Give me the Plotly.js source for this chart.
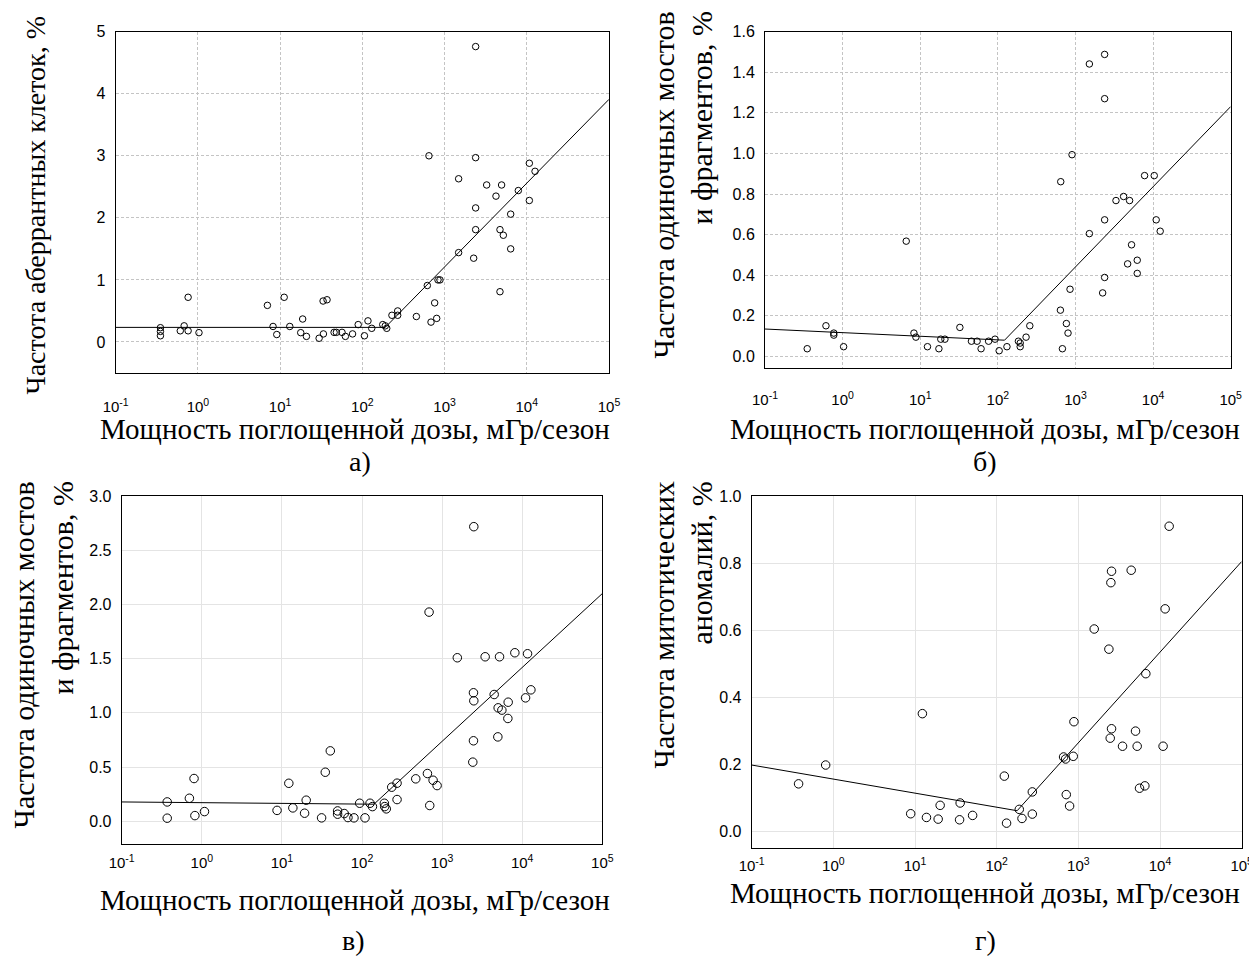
<!DOCTYPE html>
<html>
<head>
<meta charset="utf-8">
<script src="https://cdn.plot.ly/plotly-3.0.1.min.js"></script>
<style>html,body{margin:0;padding:0;background:#fff;}#chart{width:1249px;height:960px;}</style>
</head>
<body>
<div id="chart"></div>
<script>
// ---- Data (dose rate, mGy/season; frequency, %) ----
const aX = [0.35,0.35,0.35,0.61,0.68,0.76,0.76,1.03,7.0,8.2,9.1,11.2,13.1,17.8,18.8,20.9,29.8,33.3,37.2,33.6,45.3,48.3,56.6,62.2,76,89,106,117,130,177,190,198,229,269,269,454,617,646,684,758,802,832,879,1483,1483,2259,2388,2388,2388,2388,3251,4220,4720,4940,4720,5185,6370,6370,7890,10740,10740,12600];
const aY = [0.23,0.17,0.10,0.18,0.26,0.18,0.72,0.15,0.59,0.25,0.12,0.72,0.25,0.15,0.37,0.09,0.06,0.66,0.68,0.13,0.155,0.155,0.155,0.09,0.13,0.28,0.10,0.34,0.22,0.28,0.26,0.22,0.43,0.50,0.43,0.41,0.91,3.00,0.32,0.63,0.38,1.0,1.0,2.63,1.44,1.35,4.76,2.97,2.16,1.81,2.53,2.35,1.81,2.53,0.81,1.72,2.06,1.50,2.44,2.88,2.28,2.75];
const aFitX = [0.1, 190, 100000];
const aFitY = [0.235, 0.235, 3.91];

const bX = [0.35,0.61,0.77,0.77,1.03,6.6,8.3,8.8,12.4,17.4,18.4,20.8,32.4,45.7,54,60.8,76,92,104,131,184,194,194,231,258,640,646,679,764,802,851,903,1510,1510,2240,2376,2376,2376,2376,3326,4170,4700,4980,5280,6250,6250,7770,10350,10970,12350];
const bY = [0.038,0.151,0.115,0.105,0.048,0.568,0.115,0.095,0.048,0.038,0.085,0.085,0.143,0.075,0.075,0.038,0.075,0.085,0.028,0.048,0.075,0.066,0.048,0.095,0.151,0.228,0.861,0.038,0.162,0.115,0.331,0.994,1.441,0.605,0.313,1.488,1.27,0.673,0.389,0.768,0.788,0.456,0.768,0.55,0.474,0.409,0.891,0.891,0.673,0.617];
const bFitX = [0.1, 122, 100000];
const bFitY = [0.135, 0.08, 1.231];

const cX = [0.37,0.37,0.70,0.80,0.82,1.08,8.7,12.2,13.7,19.2,20.1,31.3,34.8,40.2,49.6,49.6,60,66.8,79.4,93.5,109,126,135,190,192,201,235,274,274,469,656,688,701,772,866,1549,2416,2464,2488,2464,2488,3447,4467,5012,4965,5212,5572,6683,6622,8096,11010,11660,12840];
const cY = [0.178,0.028,0.212,0.394,0.052,0.089,0.10,0.35,0.123,0.074,0.194,0.031,0.452,0.649,0.065,0.095,0.071,0.034,0.031,0.166,0.031,0.166,0.135,0.166,0.135,0.114,0.314,0.351,0.2,0.391,0.44,1.929,0.145,0.378,0.329,1.508,0.545,0.742,2.717,1.185,1.111,1.517,1.169,1.046,0.778,1.517,1.025,1.098,0.948,1.554,1.138,1.545,1.212];
const cFitX = [0.1, 141, 100000];
const cFitY = [0.178, 0.157, 2.10];

const dX = [0.375,0.805,8.85,12.3,13.8,19.2,20.3,35.1,35.7,50.7,124,132,189,204,273,273,659,698,711,781,866,883,1563,2364,2455,2502,2548,2548,3475,4436,5012,5250,5610,6520,6700,10900,11550,12940];
const dY = [0.143,0.199,0.054,0.352,0.043,0.038,0.079,0.036,0.086,0.049,0.166,0.026,0.067,0.04,0.119,0.053,0.223,0.217,0.111,0.077,0.225,0.328,0.604,0.544,0.279,0.742,0.776,0.307,0.255,0.779,0.300,0.255,0.130,0.137,0.471,0.255,0.664,0.91];
const dFitX = [0.1, 178, 100000];
const dFitY = [0.199, 0.063, 0.805];

const xTickVals = [0.1, 1, 10, 100, 1000, 10000, 100000];
const xTickText = ['10<sup>-1</sup>','10<sup>0</sup>','10<sup>1</sup>','10<sup>2</sup>','10<sup>3</sup>','10<sup>4</sup>','10<sup>5</sup>'];

const xTitle = 'Мощность поглощенной дозы, мГр/сезон';
const yTitleA = 'Частота аберрантных клеток, %';
const yTitleB1 = 'Частота одиночных мостов';
const yTitleB2 = 'и фрагментов, %';
const yTitleD1 = 'Частота митотических';
const yTitleD2 = 'аномалий, %';
const panelLabels = ['а)', 'б)', 'в)', 'г)'];

// ---- Layout helpers ----
const W = 1249, H = 960;
const px = v => v / W;
const py = v => 1 - v / H;
const SANS = 'Liberation Sans';
const SERIF = 'Liberation Serif';

function pts(x, y, ax, size) {
  return {x: x, y: y, xaxis: ax[0], yaxis: ax[1], type: 'scatter', mode: 'markers',
    marker: {symbol: 'circle-open', size: size, color: '#000', line: {width: 1, color: '#000'}},
    hoverinfo: 'x+y'};
}
function fit(x, y, ax) {
  return {x: x, y: y, xaxis: ax[0], yaxis: ax[1], type: 'scatter', mode: 'lines',
    line: {color: '#000', width: 1}, hoverinfo: 'skip'};
}
function xax(dom, anchor, standoff, gridDash, gridColor) {
  return {domain: dom, anchor: anchor, type: 'log', range: [-1, 5],
    tickvals: xTickVals, ticktext: xTickText, ticks: '', ticklabelstandoff: standoff,
    ticklabeloverflow: 'allow',
    tickfont: {family: SANS, size: 15, color: '#000'},
    showgrid: true, gridcolor: gridColor, griddash: gridDash, gridwidth: 1,
    showline: true, linecolor: '#000', linewidth: 1, mirror: true, zeroline: false};
}
function yax(dom, anchor, range, dtick, fmt, gridDash, gridColor) {
  return {domain: dom, anchor: anchor, range: range, dtick: dtick, tick0: 0, tickformat: fmt,
    ticks: '', ticklabelstandoff: 6,
    tickfont: {family: SANS, size: 16, color: '#000'},
    showgrid: true, gridcolor: gridColor, griddash: gridDash, gridwidth: 1,
    showline: true, linecolor: '#000', linewidth: 1, mirror: true, zeroline: false};
}

const data = [
  fit(aFitX, aFitY, ['x', 'y']), pts(aX, aY, ['x', 'y'], 6.5),
  fit(bFitX, bFitY, ['x2', 'y2']), pts(bX, bY, ['x2', 'y2'], 6.5),
  fit(cFitX, cFitY, ['x3', 'y3']), pts(cX, cY, ['x3', 'y3'], 8.5),
  fit(dFitX, dFitY, ['x4', 'y4']), pts(dX, dY, ['x4', 'y4'], 8.5)
];

function ann(text, x, y, size, opts) {
  return Object.assign({text: text, x: px(x), y: py(y), xref: 'paper', yref: 'paper',
    showarrow: false, font: {family: SERIF, size: size, color: '#000'}}, opts || {});
}
const C = {xanchor: 'center', yanchor: 'middle'};
const R = {textangle: -90, xanchor: 'center', yanchor: 'top'};

const annotations = [
  // x titles
  ann(xTitle, 355, 429, 29, C),
  ann(xTitle, 985, 429, 29, C),
  ann(xTitle, 355, 900, 29, C),
  ann(xTitle, 985, 893, 29, C),
  // panel labels
  ann(panelLabels[0], 360, 462, 28, C),
  ann(panelLabels[1], 985, 462, 28, C),
  ann(panelLabels[2], 354, 940, 28, C),
  ann(panelLabels[3], 985, 940, 28, C),
  // y titles
  ann(yTitleA, 35, 14, 28, R),
  ann(yTitleB1, 663, 10, 30, R),
  ann(yTitleB2, 701, 10, 30, R),
  ann(yTitleB1, 23, 480, 30, R),
  ann(yTitleB2, 62, 480, 30, R),
  ann(yTitleD1, 663, 480, 30, R),
  ann(yTitleD2, 701, 480, 30, R)
];

const GA = '#c4c4c4', GC = '#e4e4e4';
const layout = {
  width: W, height: H, margin: {l: 0, r: 0, t: 0, b: 0},
  paper_bgcolor: '#fff', plot_bgcolor: '#fff', showlegend: false,
  xaxis:  xax([px(115.7), px(609)], 'y', 20, '3px,2px', GA),
  yaxis:  yax([py(373), py(31.7)], 'x', [-0.5, 5], 1, 'd', '3px,2px', GA),
  xaxis2: xax([px(765), px(1230.7)], 'y2', 18, '3px,2px', GA),
  yaxis2: yax([py(368), py(31.7)], 'x2', [-0.057, 1.6], 0.2, '.1f', '3px,2px', GA),
  xaxis3: xax([px(121.7), px(602.3)], 'y3', 5, 'solid', GC),
  yaxis3: yax([py(844), py(496)], 'x3', [-0.21, 3.0], 0.5, '.1f', 'solid', GC),
  xaxis4: xax([px(751.7), px(1241.7)], 'y4', 4, 'solid', GC),
  yaxis4: yax([py(848), py(496)], 'x4', [-0.048, 1.0], 0.2, '.1f', 'solid', GC),
  annotations: annotations
};

Plotly.newPlot('chart', data, layout, {displayModeBar: false, staticPlot: true});
</script>
</body>
</html>
